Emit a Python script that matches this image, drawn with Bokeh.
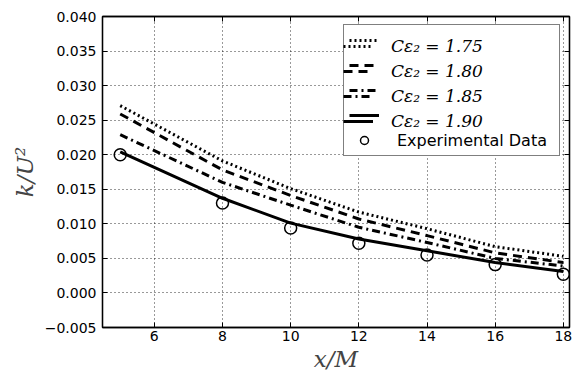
from bokeh.plotting import figure
from bokeh.models import Range1d, LinearAxis, FixedTicker, Legend, LegendItem, Grid
from bokeh.embed import file_html
from bokeh.resources import INLINE

# ---- data ----
x_pos = [5, 8, 10, 12, 14, 16, 18]
k_c175 = [0.0271, 0.0191, 0.0151, 0.0117, 0.0093, 0.0067, 0.0053]
k_c180 = [0.0259, 0.0178, 0.0141, 0.0107, 0.0083, 0.0058, 0.0044]
k_c185 = [0.0229, 0.0160, 0.0127, 0.0095, 0.0073, 0.0050, 0.0039]
k_c190 = [0.0204, 0.0137, 0.0101, 0.0078, 0.0061, 0.0044, 0.0031]
exp_x = [5, 8, 10, 12, 14, 16, 18]
exp_k = [0.0200, 0.0130, 0.0094, 0.0072, 0.0055, 0.0041, 0.0027]

series_labels = ["C\u03b5\u2082 = 1.75", "C\u03b5\u2082 = 1.80",
                 "C\u03b5\u2082 = 1.85", "C\u03b5\u2082 = 1.90"]
exp_label = "Experimental Data"

x_ticks = [6, 8, 10, 12, 14, 16, 18]
x_tick_labels = ["6", "8", "10", "12", "14", "16", "18"]
y_ticks = [-0.005, 0.0, 0.005, 0.01, 0.015, 0.02, 0.025, 0.03, 0.035, 0.04]
y_tick_labels = ["\u22120.005", "0.000", "0.005", "0.010", "0.015", "0.020",
                 "0.025", "0.030", "0.035", "0.040"]
x_label = "x/M"
y_label = "k/U\u00b2"

X_MIN, X_MAX = 4.48, 18.18
Y_MIN, Y_MAX = -0.005, 0.040

# ---- figure ----
p = figure(width=573, height=374,
           x_range=Range1d(X_MIN, X_MAX), y_range=Range1d(Y_MIN, Y_MAX),
           x_axis_type=None, y_axis_type=None,
           output_backend="svg", toolbar_location=None,
           min_border_left=102, min_border_right=4,
           min_border_top=16, min_border_bottom=47)
p.background_fill_color = "white"
p.border_fill_color = "white"
p.outline_line_color = "black"
p.outline_line_width = 1.3

xt = FixedTicker(ticks=x_ticks)
yt = FixedTicker(ticks=y_ticks)

def style_axis(ax, show_labels):
    ax.axis_line_color = "black"
    ax.axis_line_width = 1.3
    ax.major_tick_in = 5
    ax.major_tick_out = 0
    ax.major_tick_line_color = "black"
    ax.major_tick_line_width = 1
    ax.minor_tick_line_color = None
    if show_labels:
        ax.major_label_text_font = "DejaVu Sans"
        ax.major_label_text_font_size = "14px"
        ax.major_label_text_color = "black"
    else:
        ax.major_label_text_font_size = "0px"
        ax.major_label_text_color = None
        ax.major_label_standoff = 0

xb = LinearAxis(ticker=xt, major_label_overrides=dict(zip(x_ticks, x_tick_labels)))
style_axis(xb, True)
xb.major_label_standoff = 3
xb.axis_label = x_label
xb.axis_label_text_font = "DejaVu Serif"
xb.axis_label_text_font_style = "italic"
xb.axis_label_text_font_size = "23px"
xb.axis_label_standoff = 2
p.add_layout(xb, "below")

yl = LinearAxis(ticker=yt, major_label_overrides=dict(zip(y_ticks, y_tick_labels)))
style_axis(yl, True)
yl.major_label_standoff = 6
yl.axis_label = y_label
yl.axis_label_text_font = "DejaVu Serif"
yl.axis_label_text_font_style = "italic"
yl.axis_label_text_font_size = "23px"
yl.axis_label_standoff = 4
p.add_layout(yl, "left")

xa = LinearAxis(ticker=xt)
style_axis(xa, False)
p.add_layout(xa, "above")
yr = LinearAxis(ticker=yt)
style_axis(yr, False)
p.add_layout(yr, "right")

for dim, tk in ((0, xt), (1, yt)):
    g = Grid(dimension=dim, ticker=tk, grid_line_color="black",
             grid_line_alpha=0.8, grid_line_width=1, grid_line_dash="1 3")
    p.add_layout(g, "center")

# ---- data glyphs ----
lw = 3
r175 = p.line(x_pos, k_c175, line_color="black", line_width=lw, line_dash="2 3")
r180 = p.line(x_pos, k_c180, line_color="black", line_width=lw, line_dash="9 6")
r185 = p.line(x_pos, k_c185, line_color="black", line_width=lw, line_dash="8 4 2 4")
r190 = p.line(x_pos, k_c190, line_color="black", line_width=lw)
rexp = p.scatter(exp_x, exp_k, marker="circle", size=12, fill_color=None,
                 line_color="black", line_width=1.5)

line_renderers = [r175, r180, r185, r190]

# ---- legend: framed legend (box + sans label) with serif math labels on top ----
common = dict(padding=5, spacing=5, glyph_width=30, glyph_height=20,
              label_height=20, label_standoff=18, label_width=157)
leg_box = Legend(items=[LegendItem(label=" ", renderers=[r]) for r in line_renderers]
                 + [LegendItem(label=exp_label, renderers=[rexp])],
                 location=(241, 171), border_line_color="black",
                 border_line_width=1.2, background_fill_color="white",
                 background_fill_alpha=1.0, label_text_font="DejaVu Sans",
                 label_text_font_size="16px", label_text_color="black", **common)
leg_math = Legend(items=[LegendItem(label=l, renderers=[r])
                         for l, r in zip(series_labels, line_renderers)],
                  location=(241, 196), border_line_color=None,
                  background_fill_alpha=0.0, label_text_font="DejaVu Serif",
                  label_text_font_style="italic", label_text_font_size="17px",
                  label_text_color="black", **common)
p.add_layout(leg_box)
p.add_layout(leg_math)

open("out.html", "w").write(file_html(p, INLINE))
